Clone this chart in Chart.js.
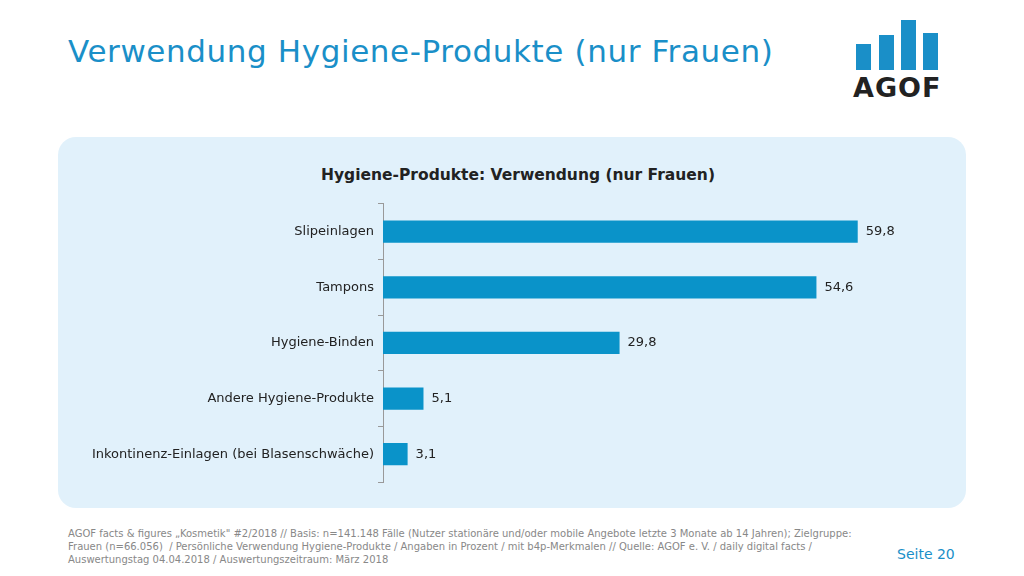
<!DOCTYPE html>
<html><head><meta charset="utf-8">
<script src="https://cdn.jsdelivr.net/npm/chart.js@4"></script>
<style>
body{margin:0;width:1024px;height:576px;background:#fff;font-family:"DejaVu Sans",Verdana,sans-serif;position:relative;overflow:hidden}
#title{position:absolute;left:68px;top:33px;font-size:31px;letter-spacing:0.6px;color:#1a8fc8}
#panel{position:absolute;left:58px;top:137px;width:908px;height:371px;background:#e1f1fb;border-radius:18px}
#ct{position:absolute;left:58px;top:166px;width:920px;text-align:center;font-weight:bold;font-size:15.5px;color:#222}
#wrap{position:absolute;left:58px;top:192px;width:908px;height:302px}
#foot{position:absolute;left:68px;top:527px;width:820px;font-size:10px;color:#888;line-height:13px}
#seite{position:absolute;left:897px;top:546px;font-size:14px;color:#1a8fc8}
.lb{position:absolute;background:#1a8fc8;width:15px}
#agof{position:absolute;left:853px;top:72px;font-size:27px;font-weight:bold;color:#222;letter-spacing:1px}
</style></head><body>
<div id="title">Verwendung Hygiene-Produkte (nur Frauen)</div>
<div class="lb" style="left:856px;top:44px;height:26px"></div>
<div class="lb" style="left:879px;top:35px;height:35px"></div>
<div class="lb" style="left:901px;top:20px;height:50px"></div>
<div class="lb" style="left:923px;top:33px;height:37px"></div>
<div id="agof">AGOF</div>
<div id="panel"></div>
<div id="ct">Hygiene-Produkte: Verwendung (nur Frauen)</div>
<div id="wrap"><canvas id="c"></canvas></div>
<div id="foot">AGOF facts &amp; figures „Kosmetik" #2/2018 // Basis: n=141.148 Fälle (Nutzer stationäre und/oder mobile Angebote letzte 3 Monate ab 14 Jahren); Zielgruppe: Frauen (n=66.056)&nbsp; / Persönliche Verwendung Hygiene-Produkte / Angaben in Prozent / mit b4p-Merkmalen // Quelle: AGOF e. V. / daily digital facts / Auswertungstag 04.04.2018 / Auswertungszeitraum: März 2018</div>
<div id="seite">Seite 20</div>
<script>
const categories=["Slipeinlagen","Tampons","Hygiene-Binden","Andere Hygiene-Produkte","Inkontinenz-Einlagen (bei Blasenschwäche)"];
const values=[59.8,54.6,29.8,5.1,3.1];
const labelsPlugin={id:'lbl',afterDatasetsDraw(ch){const ctx=ch.ctx;ctx.save();ctx.font='13px "DejaVu Sans"';ctx.fillStyle='#222';ctx.textBaseline='middle';
ch.getDatasetMeta(0).data.forEach((b,i)=>{ctx.fillText(values[i].toFixed(1).replace('.',','),b.x+8,b.y);});ctx.restore();}};
new Chart(document.getElementById('c'),{type:'bar',data:{labels:categories,datasets:[{data:values,backgroundColor:'#0a93c9',categoryPercentage:1,barPercentage:0.4}]},
options:{indexAxis:'y',responsive:true,maintainAspectRatio:false,animation:false,layout:{padding:{top:11,bottom:12,right:67}},
plugins:{legend:{display:false},tooltip:{enabled:false}},
scales:{x:{display:false,min:0,max:65},y:{afterFit(s){s.width=325;},border:{display:true,color:'#999'},grid:{offset:true,drawOnChartArea:false,tickLength:5,color:'#999'},ticks:{color:'#222',font:{size:13,family:'DejaVu Sans'},padding:4}}}},
plugins:[labelsPlugin]});
</script></body></html>
